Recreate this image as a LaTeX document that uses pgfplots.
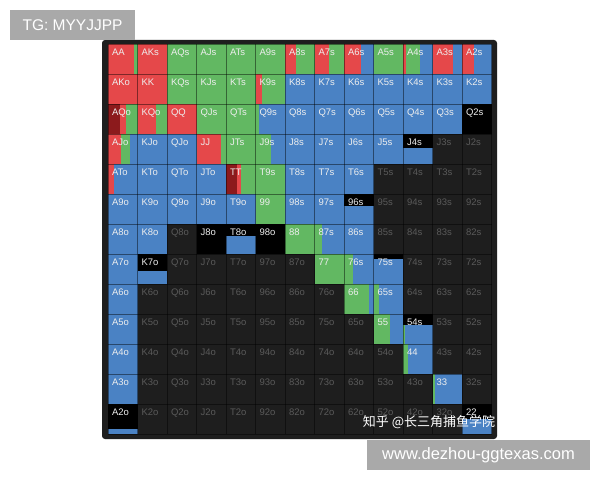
\documentclass[border=0pt]{standalone}
\usepackage{pgfplots}
\pgfplotsset{compat=1.18}
\usepackage{pgfplotstable}
\usepackage{fontspec}
\setmainfont{Liberation Sans}
\newfontfamily\cjk{Noto Sans CJK SC}
\definecolor{cR}{HTML}{E5484A}
\definecolor{cDR}{HTML}{8C1A1C}
\definecolor{cG}{HTML}{62B862}
\definecolor{cB}{HTML}{4A82C4}
\definecolor{panel}{HTML}{1E1E1E}
\definecolor{labin}{HTML}{EEEEEE}
\definecolor{labout}{HTML}{5A5A5A}
\definecolor{wm}{HTML}{A9A9A9}

% one segment of a cell: colour, width fraction
\newcommand\seg[2]{%
  \ifdim #2pt>0pt
    \pgfmathsetmacro\xnext{\xcur+#2}%
    \edef\tmp{\noexpand\addplot[fill=#1,draw=none,forget plot] coordinates {(\xcur,\yb) (\xnext,\yb) (\xnext,\yt) (\xcur,\yt)};}%
    \tmp
    \let\xcur\xnext
  \fi}
% cell: col, row, height, darkred, red, green, blue
\newcommand\cellbar[7]{%
  \pgfmathsetmacro\xcur{#1}%
  \pgfmathsetmacro\xend{#1+1}%
  \pgfmathsetmacro\yb{#2+1}%
  \pgfmathsetmacro\ytop{#2}%
  \edef\tmp{\noexpand\addplot[fill=black,draw=none,forget plot] coordinates {(\xcur,\ytop) (\xend,\ytop) (\xend,\yb) (\xcur,\yb)};}%
  \tmp
  \pgfmathsetmacro\yt{#2+1-#3}%
  \seg{cDR}{#4}\seg{cR}{#5}\seg{cG}{#6}\seg{cB}{#7}}

\pgfplotstableread{
c r lab
0 0 AA
1 0 AKs
2 0 AQs
3 0 AJs
4 0 ATs
5 0 A9s
6 0 A8s
7 0 A7s
8 0 A6s
9 0 A5s
10 0 A4s
11 0 A3s
12 0 A2s
0 1 AKo
1 1 KK
2 1 KQs
3 1 KJs
4 1 KTs
5 1 K9s
6 1 K8s
7 1 K7s
8 1 K6s
9 1 K5s
10 1 K4s
11 1 K3s
12 1 K2s
0 2 AQo
1 2 KQo
2 2 QQ
3 2 QJs
4 2 QTs
5 2 Q9s
6 2 Q8s
7 2 Q7s
8 2 Q6s
9 2 Q5s
10 2 Q4s
11 2 Q3s
12 2 Q2s
0 3 AJo
1 3 KJo
2 3 QJo
3 3 JJ
4 3 JTs
5 3 J9s
6 3 J8s
7 3 J7s
8 3 J6s
9 3 J5s
10 3 J4s
0 4 ATo
1 4 KTo
2 4 QTo
3 4 JTo
4 4 TT
5 4 T9s
6 4 T8s
7 4 T7s
8 4 T6s
0 5 A9o
1 5 K9o
2 5 Q9o
3 5 J9o
4 5 T9o
5 5 99
6 5 98s
7 5 97s
8 5 96s
0 6 A8o
1 6 K8o
3 6 J8o
4 6 T8o
5 6 98o
6 6 88
7 6 87s
8 6 86s
0 7 A7o
1 7 K7o
7 7 77
8 7 76s
9 7 75s
0 8 A6o
8 8 66
9 8 65s
0 9 A5o
9 9 55
10 9 54s
0 10 A4o
10 10 44
0 11 A3o
11 11 33
0 12 A2o
12 12 22
}\labin

\pgfplotstableread{
c r lab
11 3 J3s
12 3 J2s
9 4 T5s
10 4 T4s
11 4 T3s
12 4 T2s
9 5 95s
10 5 94s
11 5 93s
12 5 92s
2 6 Q8o
9 6 85s
10 6 84s
11 6 83s
12 6 82s
2 7 Q7o
3 7 J7o
4 7 T7o
5 7 97o
6 7 87o
10 7 74s
11 7 73s
12 7 72s
1 8 K6o
2 8 Q6o
3 8 J6o
4 8 T6o
5 8 96o
6 8 86o
7 8 76o
10 8 64s
11 8 63s
12 8 62s
1 9 K5o
2 9 Q5o
3 9 J5o
4 9 T5o
5 9 95o
6 9 85o
7 9 75o
8 9 65o
11 9 53s
12 9 52s
1 10 K4o
2 10 Q4o
3 10 J4o
4 10 T4o
5 10 94o
6 10 84o
7 10 74o
8 10 64o
9 10 54o
11 10 43s
12 10 42s
1 11 K3o
2 11 Q3o
3 11 J3o
4 11 T3o
5 11 93o
6 11 83o
7 11 73o
8 11 63o
9 11 53o
10 11 43o
12 11 32s
1 12 K2o
2 12 Q2o
3 12 J2o
4 12 T2o
5 12 92o
6 12 82o
7 12 72o
8 12 62o
9 12 52o
10 12 42o
11 12 32o
}\labout

\begin{document}
\begin{tikzpicture}
\path[use as bounding box, fill=white] (0pt,0pt) rectangle (600pt,480pt);
\fill[panel, rounded corners=3pt] (102pt,41pt) rectangle (497pt,440pt);
\begin{axis}[
  at={(108.3pt,46pt)}, anchor=south west,
  scale only axis, width=383.5pt, height=390pt,
  xmin=0, xmax=13, ymin=0, ymax=13, y dir=reverse,
  xtick={0,...,13}, ytick={0,...,13},
  ticklabel style={opacity=0},
  major tick length=0pt,
  grid=major,
  major grid style={black, opacity=0.45, line width=0.8pt},
  axis line style={draw=none},
  axis on top,
  clip=false,
]
% row 0
\cellbar{0}{0}{1}{0}{0.86}{0.14}{0}
\cellbar{1}{0}{1}{0}{1}{0}{0}
\cellbar{2}{0}{1}{0}{0}{1}{0}
\cellbar{3}{0}{1}{0}{0}{1}{0}
\cellbar{4}{0}{1}{0}{0}{1}{0}
\cellbar{5}{0}{1}{0}{0}{1}{0}
\cellbar{6}{0}{1}{0}{0.37}{0.63}{0}
\cellbar{7}{0}{1}{0}{0.48}{0.52}{0}
\cellbar{8}{0}{1}{0}{0.55}{0}{0.45}
\cellbar{9}{0}{1}{0}{0}{1}{0}
\cellbar{10}{0}{1}{0}{0.08}{0.5}{0.42}
\cellbar{11}{0}{1}{0}{0.68}{0}{0.32}
\cellbar{12}{0}{1}{0}{0.38}{0}{0.62}
% row 1
\cellbar{0}{1}{1}{0}{1}{0}{0}
\cellbar{1}{1}{1}{0}{1}{0}{0}
\cellbar{2}{1}{1}{0}{0}{1}{0}
\cellbar{3}{1}{1}{0}{0}{1}{0}
\cellbar{4}{1}{1}{0}{0}{1}{0}
\cellbar{5}{1}{1}{0}{0.22}{0.78}{0}
\cellbar{6}{1}{1}{0}{0}{0}{1}
\cellbar{7}{1}{1}{0}{0}{0}{1}
\cellbar{8}{1}{1}{0}{0}{0}{1}
\cellbar{9}{1}{1}{0}{0}{0}{1}
\cellbar{10}{1}{1}{0}{0}{0}{1}
\cellbar{11}{1}{1}{0}{0}{0}{1}
\cellbar{12}{1}{1}{0}{0}{0}{1}
% row 2
\cellbar{0}{2}{1}{0.4}{0.2}{0.4}{0}
\cellbar{1}{2}{1}{0}{0.61}{0.39}{0}
\cellbar{2}{2}{1}{0}{1}{0}{0}
\cellbar{3}{2}{1}{0}{0}{1}{0}
\cellbar{4}{2}{1}{0}{0}{1}{0}
\cellbar{5}{2}{1}{0}{0}{0.1}{0.9}
\cellbar{6}{2}{1}{0}{0}{0}{1}
\cellbar{7}{2}{1}{0}{0}{0}{1}
\cellbar{8}{2}{1}{0}{0}{0}{1}
\cellbar{9}{2}{1}{0}{0}{0}{1}
\cellbar{10}{2}{1}{0}{0}{0}{1}
\cellbar{11}{2}{1}{0}{0}{0}{1}
\cellbar{12}{2}{0}{0}{0}{0}{0}
% row 3
\cellbar{0}{3}{1}{0}{0.43}{0.29}{0.28}
\cellbar{1}{3}{1}{0}{0}{0}{1}
\cellbar{2}{3}{1}{0}{0}{0}{1}
\cellbar{3}{3}{1}{0}{0.82}{0.18}{0}
\cellbar{4}{3}{1}{0}{0}{1}{0}
\cellbar{5}{3}{1}{0}{0}{0.5}{0.5}
\cellbar{6}{3}{1}{0}{0}{0}{1}
\cellbar{7}{3}{1}{0}{0}{0}{1}
\cellbar{8}{3}{1}{0}{0}{0}{1}
\cellbar{9}{3}{1}{0}{0}{0}{1}
\cellbar{10}{3}{0.53}{0}{0}{0}{1}
% row 4
\cellbar{0}{4}{1}{0}{0.2}{0}{0.8}
\cellbar{1}{4}{1}{0}{0}{0}{1}
\cellbar{2}{4}{1}{0}{0}{0}{1}
\cellbar{3}{4}{1}{0}{0}{0}{1}
\cellbar{4}{4}{1}{0.35}{0.15}{0.5}{0}
\cellbar{5}{4}{1}{0}{0}{1}{0}
\cellbar{6}{4}{1}{0}{0}{0}{1}
\cellbar{7}{4}{1}{0}{0}{0}{1}
\cellbar{8}{4}{1}{0}{0}{0}{1}
% row 5
\cellbar{0}{5}{1}{0}{0}{0}{1}
\cellbar{1}{5}{1}{0}{0}{0}{1}
\cellbar{2}{5}{1}{0}{0}{0}{1}
\cellbar{3}{5}{1}{0}{0}{0}{1}
\cellbar{4}{5}{1}{0}{0}{0}{1}
\cellbar{5}{5}{1}{0}{0}{1}{0}
\cellbar{6}{5}{1}{0}{0}{0}{1}
\cellbar{7}{5}{1}{0}{0}{0}{1}
\cellbar{8}{5}{0.6}{0}{0}{0}{1}
% row 6
\cellbar{0}{6}{1}{0}{0}{0}{1}
\cellbar{1}{6}{1}{0}{0}{0}{1}
\cellbar{3}{6}{0}{0}{0}{0}{0}
\cellbar{4}{6}{0.6}{0}{0}{0}{1}
\cellbar{5}{6}{0}{0}{0}{0}{0}
\cellbar{6}{6}{1}{0}{0}{1}{0}
\cellbar{7}{6}{1}{0}{0}{0.25}{0.75}
\cellbar{8}{6}{1}{0}{0}{0}{1}
% row 7
\cellbar{0}{7}{1}{0}{0}{0}{1}
\cellbar{1}{7}{0.45}{0}{0}{0}{1}
\cellbar{7}{7}{1}{0}{0}{1}{0}
\cellbar{8}{7}{1}{0}{0}{0.3}{0.7}
\cellbar{9}{7}{0.85}{0}{0}{0}{1}
% row 8
\cellbar{0}{8}{1}{0}{0}{0}{1}
\cellbar{8}{8}{1}{0}{0}{0.83}{0.17}
\cellbar{9}{8}{1}{0}{0}{0.17}{0.83}
% row 9
\cellbar{0}{9}{1}{0}{0}{0}{1}
\cellbar{9}{9}{1}{0}{0}{0.55}{0.45}
\cellbar{10}{9}{0.63}{0}{0}{0.06}{0.94}
% row 10
\cellbar{0}{10}{1}{0}{0}{0}{1}
\cellbar{10}{10}{1}{0}{0}{0.17}{0.83}
% row 11
\cellbar{0}{11}{1}{0}{0}{0}{1}
\cellbar{11}{11}{1}{0}{0}{0.08}{0.92}
% row 12
\cellbar{0}{12}{0.17}{0}{0}{0}{1}
\cellbar{12}{12}{0.5}{0}{0}{0}{1}
% labels
\addplot[mark=none, draw=none, forget plot, nodes near coords, point meta=explicit symbolic,
  every node near coord/.append style={anchor=base west, inner sep=0pt, xshift=3.5pt, yshift=-11pt,
  text=labin, opacity=1, font=\fontsize{9.5}{11}\selectfont}]
  table[x=c, y=r, meta=lab] {\labin};
\addplot[mark=none, draw=none, forget plot, nodes near coords, point meta=explicit symbolic,
  every node near coord/.append style={anchor=base west, inner sep=0pt, xshift=3.5pt, yshift=-11pt,
  text=labout, opacity=1, font=\fontsize{9.5}{11}\selectfont}]
  table[x=c, y=r, meta=lab] {\labout};
\end{axis}
\node[text=white, font=\cjk\fontsize{13}{15}\selectfont, anchor=center] at (429pt,57.5pt) {知乎 @长三角捕鱼学院};
\fill[wm] (10pt,440pt) rectangle (135pt,470pt);
\node[text=white, font=\fontsize{15.5}{18}\selectfont, anchor=center] at (72.5pt,455pt) {TG: MYYJJPP};
\fill[wm] (367pt,10pt) rectangle (590pt,40pt);
\node[text=white, font=\fontsize{16.5}{19}\selectfont, anchor=center] at (478.5pt,25pt) {www.dezhou-ggtexas.com};
\end{tikzpicture}
\end{document}
